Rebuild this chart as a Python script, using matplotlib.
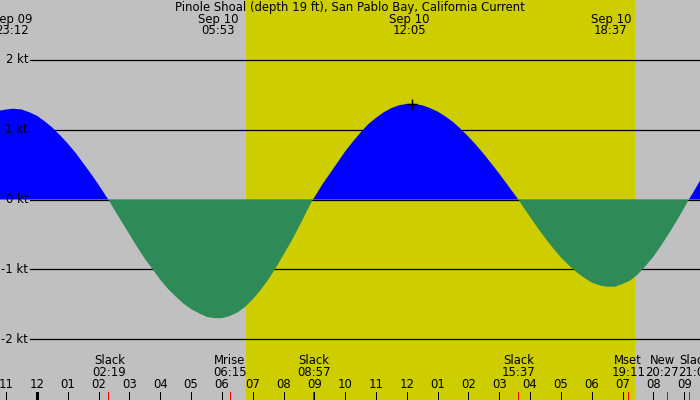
import matplotlib
matplotlib.use('Agg')
import matplotlib.pyplot as plt
import numpy as np

station = 'Pinole Shoal (depth 19 ft), San Pablo Bay, California Current'

# hours counted from Sep 10 00:00, current in knots
curve_hours = [-1.5, -1.25, -1.0, -0.8, -0.75, -0.5, -0.25, 0.0, 0.25, 0.5,
               0.75, 1.0, 1.25, 1.5, 1.75, 2.0, 2.25, 2.317, 2.5, 2.75,
               3.0, 3.25, 3.5, 3.75, 4.0, 4.25, 4.5, 4.75, 5.0, 5.25,
               5.5, 5.75, 5.883, 6.0, 6.25, 6.5, 6.75, 7.0, 7.25, 7.5,
               7.75, 8.0, 8.25, 8.5, 8.75, 8.95, 9.0, 9.25, 9.5, 9.75,
               10.0, 10.25, 10.5, 10.75, 11.0, 11.25, 11.5, 11.75, 12.0, 12.083,
               12.25, 12.5, 12.75, 13.0, 13.25, 13.5, 13.75, 14.0, 14.25, 14.5,
               14.75, 15.0, 15.25, 15.5, 15.617, 15.75, 16.0, 16.25, 16.5, 16.75,
               17.0, 17.25, 17.5, 17.75, 18.0, 18.25, 18.5, 18.617, 18.75, 19.0,
               19.25, 19.5, 19.75, 20.0, 20.25, 20.5, 20.75, 21.0, 21.15, 21.25,
               21.5, 21.75, 22.0]
curve_kt = [1.22, 1.27, 1.29, 1.30, 1.30, 1.29, 1.25, 1.20, 1.12, 1.03,
            0.92, 0.80, 0.67, 0.52, 0.37, 0.21, 0.04, 0.0, -0.14, -0.32,
            -0.50, -0.68, -0.85, -1.00, -1.15, -1.28, -1.39, -1.49, -1.57, -1.63,
            -1.68, -1.70, -1.70, -1.70, -1.67, -1.62, -1.54, -1.43, -1.30, -1.15,
            -0.98, -0.79, -0.60, -0.39, -0.17, 0.0, 0.03, 0.21, 0.37, 0.53,
            0.69, 0.83, 0.96, 1.08, 1.17, 1.25, 1.31, 1.35, 1.37, 1.37,
            1.37, 1.35, 1.31, 1.26, 1.19, 1.11, 1.01, 0.90, 0.78, 0.65,
            0.51, 0.37, 0.22, 0.07, 0.0, -0.09, -0.25, -0.41, -0.56, -0.70,
            -0.83, -0.94, -1.04, -1.12, -1.19, -1.23, -1.25, -1.25, -1.25, -1.21,
            -1.16, -1.07, -0.95, -0.82, -0.66, -0.49, -0.31, -0.12, 0.0, 0.07,
            0.26, 0.44, 0.62]

peak_hours = [-0.8, 5.883, 12.083, 18.617]
peak_dates = ['Sep 09', 'Sep 10', 'Sep 10', 'Sep 10']
peak_times = ['23:12', '05:53', '12:05', '18:37']

event_hours = [2.317, 6.25, 8.95, 15.617, 19.183, 20.45, 21.15]
event_names = ['Slack', 'Mrise', 'Slack', 'Slack', 'Mset', 'New', 'Slack']
event_times = ['02:19', '06:15', '08:57', '15:37', '19:11', '20:27', '21:09']
label_dx_px = [1, 0, 1, 0, 0, -5, 6]   # labels pushed apart where crowded

sunrise = 6.78
sunset = 19.40
kt_levels = [2, 1, 0, -1, -2]
hour_ticks = list(range(-1, 22))

W, H = 700, 400
px_per_hour = 30.82
px_per_kt = 69.8
x0_px = 37      # midnight
y0_px = 199.5   # 0 kt

fig = plt.figure(figsize=(7, 4), dpi=100, facecolor='#c0c0c0')
ax = fig.add_axes([0, 0, 1, 1])
ax.set_xlim(-x0_px / px_per_hour, (W - x0_px) / px_per_hour)
ax.set_ylim(-(H - y0_px) / px_per_kt, y0_px / px_per_kt)
ax.axis('off')

fs = 8.4
xt = ax.get_xaxis_transform()
yt = ax.get_yaxis_transform()

# daylight
ax.axvspan(sunrise, sunset, color='#cdcd00', lw=0)

# grid lines and labels
for k in kt_levels:
    ax.plot([30 / W, 1], [k, k], transform=yt, color='black', lw=0.9, zorder=1)
    ax.text(28 / W, k, '%d kt' % k, transform=yt, ha='right', va='center',
            fontsize=fs, color='black')

hrs = np.array(curve_hours)
kt = np.array(curve_kt)
ax.fill_between(hrs, kt, 0, where=kt >= 0, interpolate=True, color='#0000ff', lw=0, zorder=2)
ax.fill_between(hrs, kt, 0, where=kt <= 0, interpolate=True, color='#2e8b57', lw=0, zorder=2)

# max flood mark
ax.plot(peak_hours[2] + 0.1, curve_kt[curve_hours.index(peak_hours[2])], marker='+',
        color='black', ms=7, mew=1, zorder=3)

# top labels
ax.text(0.5, 1 - 7 / H, station, transform=ax.transAxes, ha='center', va='center', fontsize=fs)
for h, d, t in zip(peak_hours, peak_dates, peak_times):
    ax.text(h, 1 - 25 / H, d + '\n' + t, transform=xt, ha='center', va='center',
            fontsize=fs, linespacing=0.88)

# hour ticks
for h in hour_ticks:
    lbl = '%02d' % ((h % 12) or 12)
    ax.plot([h, h], [0, 8 / H], transform=xt, color='black',
            lw=2.16 if h % 24 == 0 else 0.72, solid_capstyle='butt', antialiased=False)
    ax.text(h, 15 / H, lbl, transform=xt, ha='center', va='center', fontsize=fs)

# events
for h, n, t, dx in zip(event_hours, event_names, event_times, label_dx_px):
    ax.plot([h, h], [0, 8 / H], transform=xt, color='red', lw=0.72,
            solid_capstyle='butt', antialiased=False)
    hl = h + dx / px_per_hour
    ax.text(hl, 1 - 366.5 / H, n + '\n' + t, transform=xt, ha='center', va='center',
            fontsize=fs, linespacing=0.81)

fig.savefig('out.png', dpi=100, facecolor=fig.get_facecolor())
